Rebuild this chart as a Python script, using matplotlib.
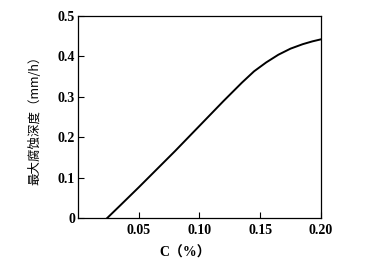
import numpy as np
import matplotlib.pyplot as plt

# 含碳量 C(%) 与最大腐蚀深度 (mm/h)
c_pct = [0.024, 0.035, 0.05, 0.065, 0.08, 0.10, 0.12, 0.135, 0.145, 0.155, 0.165, 0.175, 0.185, 0.193, 0.20]
depth = [0.0, 0.032, 0.076, 0.121, 0.166, 0.228, 0.290, 0.335, 0.363, 0.385, 0.404, 0.419, 0.430, 0.437, 0.442]

x_ticks = [0.05, 0.10, 0.15, 0.20]
x_labels = ['0.05', '0.10', '0.15', '0.20']
y_ticks = [0, 0.1, 0.2, 0.3, 0.4, 0.5]
y_labels = ['0', '0.1', '0.2', '0.3', '0.4', '0.5']

plt.rcParams['font.family'] = ['Liberation Serif', 'Noto Sans CJK SC', 'DejaVu Sans']

fig = plt.figure(figsize=(3.88, 2.74), dpi=100)
ax = fig.add_axes([0.201, 0.204, 0.626, 0.738])
ax.plot(c_pct, depth, color='black', linewidth=1.4)

ax.set_xlim(0, 0.20)
ax.set_ylim(0, 0.5)
ax.set_xticks(x_ticks)
ax.set_xticklabels(x_labels, fontsize=10, fontweight='bold')
ax.set_yticks(y_ticks)
ax.set_yticklabels(y_labels, fontsize=10, fontweight='bold')
ax.tick_params(axis='x', direction='in', length=4, width=0.8, pad=4)
ax.tick_params(axis='y', direction='in', length=4, width=0.8, pad=2)
for s in ax.spines.values():
    s.set_linewidth(0.9)

ax.set_xlabel('C（%）', fontsize=10, fontweight='bold', labelpad=6,
              family=['Liberation Serif', 'Noto Sans CJK SC'])
ax.xaxis.set_label_coords(0.44, -0.14)
ax.set_ylabel('最大腐蚀深度（mm/h）', fontsize=9, labelpad=12,
              family=['Noto Sans CJK SC', 'Liberation Serif'])

fig.savefig('out.png', dpi=100)
